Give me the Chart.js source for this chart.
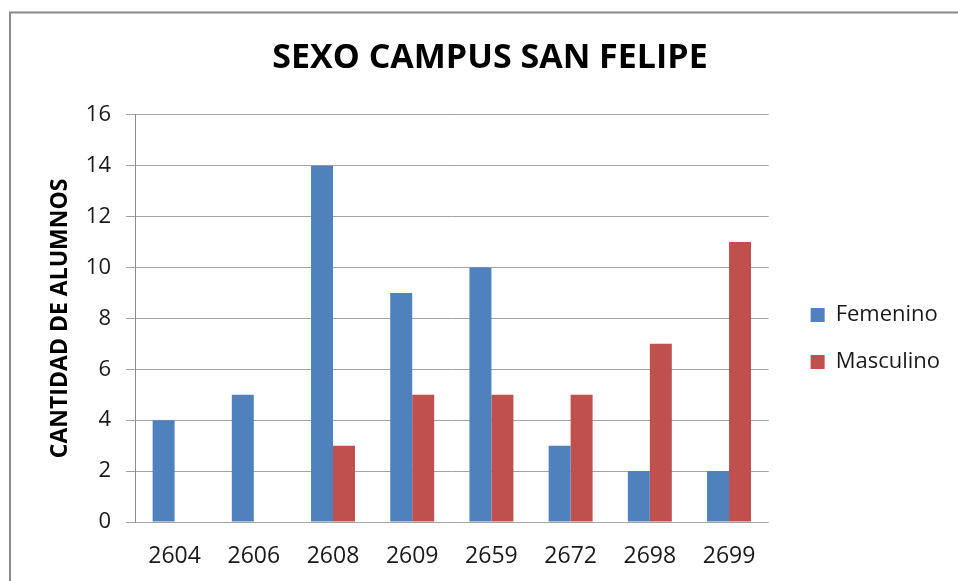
<!DOCTYPE html>
<html lang="es">
<head>
<meta charset="UTF-8">
<title>Sexo Campus San Felipe</title>
<script src="https://cdn.jsdelivr.net/npm/chart.js"></script>
<style>
  html, body { margin: 0; padding: 0; background: #fff; overflow: hidden; }
  #chart { display: block; }
</style>
</head>
<body>
<canvas id="chart" width="958" height="581"></canvas>
<script>
  // Alumnos por carrera y sexo
  const carreras = ['2604', '2606', '2608', '2609', '2659', '2672', '2698', '2699'];
  const femenino = [4, 5, 14, 9, 10, 3, 2, 2];
  const masculino = [0, 0, 3, 5, 5, 5, 7, 11];
  const yTicks = [0, 2, 4, 6, 8, 10, 12, 14, 16];

  const FONT = "'Open Sans', 'Liberation Sans', sans-serif";

  // gray frame around the whole chart (runs off the right/bottom edge)
  const framePlugin = {
    id: 'frame',
    beforeDraw(chart) {
      const ctx = chart.ctx;
      ctx.save();
      ctx.strokeStyle = '#8a8a8a';
      ctx.lineWidth = 2;
      ctx.strokeRect(10, 12.5, 1200, 1200);
      ctx.restore();
    }
  };

  // nudge the legend a bit right and down
  const legendNudge = {
    id: 'legendNudge',
    afterLayout(chart) {
      const lg = chart.legend;
      lg.left += 17; lg.right += 17;
      lg.top += 20; lg.bottom += 20;
    }
  };

  new Chart(document.getElementById('chart'), {
    type: 'bar',
    data: {
      labels: carreras,
      datasets: [
        { label: 'Femenino', data: femenino, backgroundColor: '#4F81BD' },
        { label: 'Masculino', data: masculino, backgroundColor: '#C0504D' }
      ]
    },
    options: {
      responsive: false,
      animation: false,
      layout: { padding: { left: 47, right: 25, top: 0, bottom: 10 } },
      datasets: { bar: { barPercentage: 1, categoryPercentage: 0.555 } },
      plugins: {
        title: {
          display: true,
          text: 'SEXO CAMPUS SAN FELIPE',
          color: '#000',
          font: { family: FONT, size: 34, weight: 'bold' },
          padding: { top: 38, bottom: 36 }
        },
        legend: {
          position: 'right',
          fullSize: false,
          labels: {
            color: '#1a1a1a',
            font: { family: FONT, size: 22 },
            boxWidth: 14,
            boxHeight: 14,
            padding: 25
          }
        },
        tooltip: { enabled: false }
      },
      scales: {
        x: {
          afterFit(scale) { scale.height = 49; },
          grid: { display: false, drawTicks: false },
          border: { display: false },
          ticks: { color: '#1a1a1a', font: { family: FONT, size: 23 }, padding: 21 }
        },
        y: {
          min: 0,
          max: 16,
          afterFit(scale) { scale.width = 88; },
          afterBuildTicks(scale) { scale.ticks = yTicks.map(v => ({ value: v })); },
          grid: { color: '#a3a3a3', tickLength: 9 },
          border: { color: '#8c8c8c' },
          ticks: { color: '#1a1a1a', font: { family: FONT, size: 22 }, padding: 15 },
          title: {
            display: true,
            text: 'CANTIDAD DE ALUMNOS',
            color: '#000',
            font: { family: FONT, size: 23, weight: 'bold' },
            padding: { top: 0, bottom: 0 }
          }
        }
      }
    },
    plugins: [framePlugin, legendNudge]
  });
</script>
</body>
</html>
